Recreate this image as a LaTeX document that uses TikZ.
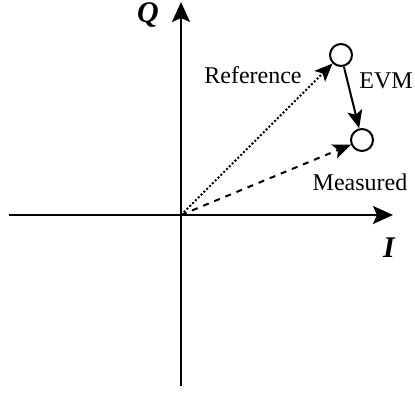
\documentclass[tikz,border=0pt]{standalone}
\usepackage{fontspec}
\setmainfont{Liberation Serif}
\usetikzlibrary{arrows.meta}
\tikzset{
  point/.style={draw, circle, fill=white, minimum size=11pt, inner sep=0pt},
  axis/.style={-{Stealth[length=10pt, width=9pt, inset=2pt]}},
  vec/.style={-{Stealth[length=9pt, width=7.5pt, inset=2pt]}},
  axislab/.style={font=\fontsize{15}{17}\selectfont\bfseries\itshape}
}
\begin{document}
\begin{tikzpicture}[x=0.5pt, y=-0.5pt, line width=1pt, font=\fontsize{12}{14}\selectfont]
  \useasboundingbox (0,0) rectangle (415,392);
  \coordinate (O) at (181,215);
  \coordinate (Istart) at (9,215);
  \coordinate (Iend) at (393,215);
  \coordinate (Qstart) at (181,386);
  \coordinate (Qend) at (181,2);

  % axes
  \draw[axis] (Istart) -- (Iend);
  \draw[axis] (Qstart) -- (Qend);
  \node[axislab] (Qlab) at (148,15) {Q};
  \node[axislab] (Ilab) at (389,248) {I};

  % symbols
  \node[point] (ref) at (341,55) {};
  \node[point] (meas) at (362,140) {};

  \draw[vec, densely dotted] (O) -- (ref);
  \draw[vec, dashed] (O) -- (meas);
  \draw[vec] (ref) -- (meas);

  \node[anchor=base] (reflab) at (253,83) {Reference};
  \node[anchor=base] (evmlab) at (386,88) {EVM};
  \node[anchor=base] (measlab) at (360,190) {Measured};
\end{tikzpicture}
\end{document}
